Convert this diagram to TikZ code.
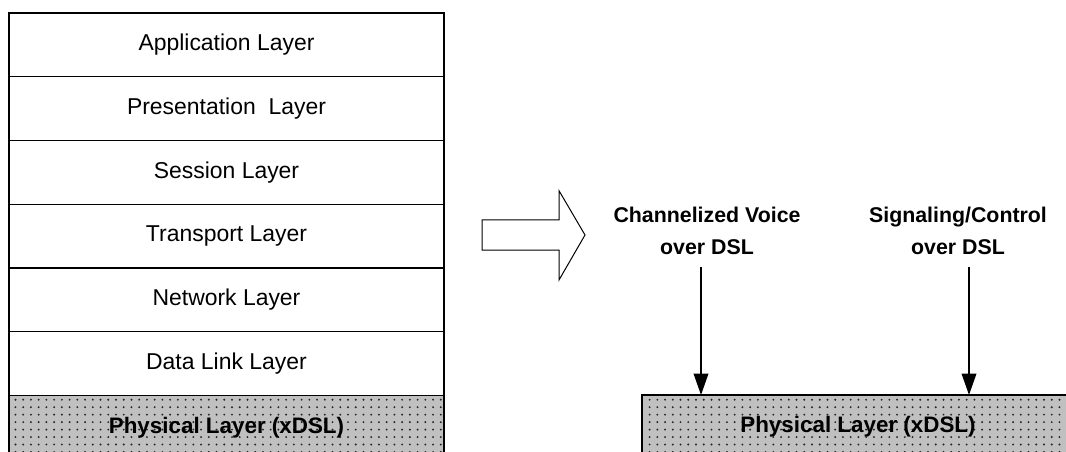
\documentclass[tikz,border=0pt]{standalone}
\usepackage{fontspec}
\setmainfont{Liberation Sans}
\usepackage{tikz}
\usetikzlibrary{positioning,patterns,arrows.meta}
\definecolor{physgray}{HTML}{C0C0C0}
\newcommand{\DOTS}[0]{black!85}

\pgfdeclarepatternformonly{xdsldots}{\pgfqpoint{-1pt}{-1pt}}{\pgfqpoint{1pt}{1pt}}{\pgfqpoint{5.8pt}{5.6pt}}{\pgfpathcircle{\pgfpointorigin}{0.8pt}\pgfusepath{fill}}

\begin{document}
\begin{tikzpicture}[x=0.75pt, y=-0.75pt,
  layer/.style={draw, line width=1pt, outer sep=0pt, minimum width=326.25pt,
    minimum height=47.8pt, font=\fontsize{17.2}{20}\selectfont},
  phys/.style={layer, preaction={fill=physgray}, pattern=xdsldots,
    pattern color=\DOTS, font=\fontsize{16.8}{20}\selectfont\bfseries},
  tag/.style={align=center, font=\fontsize{16}{24}\selectfont\bfseries},
  conn/.style={line width=1pt, -{Triangle[width=11pt,length=16pt]}}]

  \useasboundingbox (0,0) rectangle (1066,452);
  \clip (0,0) rectangle (1066,452);

  %% OSI stack
  \node[layer] (app) at (226.5,44.85) {Application Layer};
  \node[layer, below=0pt of app] (pres) {Presentation\ \ Layer};
  \node[layer, below=0pt of pres] (sess) {Session Layer};
  \node[layer, below=0pt of sess] (trans) {Transport Layer};
  \node[layer, below=0pt of trans] (net) {Network Layer};
  \node[layer, below=0pt of net] (link) {Data Link Layer};
  \node[phys, below=0pt of link] (physL) {Physical Layer (xDSL)};

  %% block arrow
  \draw[line width=0.75pt] (482,220) -- (559,220) -- (559,190.7) -- (585,235)
    -- (559,280) -- (559,250) -- (482,250) -- cycle;

  %% voice / signaling over xDSL
  \node[phys, minimum width=324pt] (physR) at (858,426.85) {Physical Layer (xDSL)};
  \node[tag] (voice) at (707,231) {Channelized Voice\\over DSL};
  \node[tag] (signal) at (958,231) {Signaling/Control\\over DSL};

  \coordinate (vtop) at (701,267);
  \coordinate (stop) at (969,267);
  \draw[conn] (vtop) -- (vtop |- physR.north); %% voice
  \draw[conn] (stop) -- (stop |- physR.north); %% signaling

\end{tikzpicture}
\end{document}
